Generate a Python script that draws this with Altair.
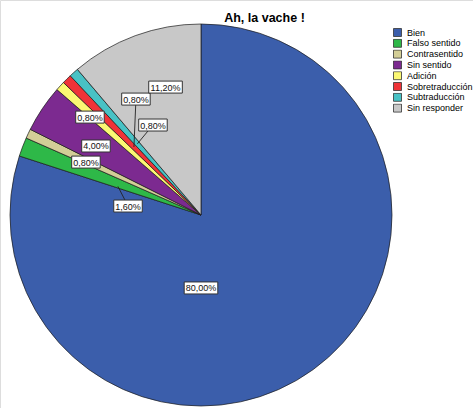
import altair as alt
import pandas as pd

# ---- data ----
categories = ["Bien", "Falso sentido", "Contrasentido", "Sin sentido", "Adición",
              "Sobretraducción", "Subtraducción", "Sin responder"]
percents = [80.0, 1.6, 0.8, 4.0, 0.8, 0.8, 0.8, 11.2]
value_labels = ["80,00%", "1,60%", "0,80%", "4,00%", "0,80%", "0,80%", "0,80%", "11,20%"]
title_text = "Ah, la vache !"

# ---- styles / layout ----
colors = ["#3B5EAB", "#2EB848", "#D3CE97", "#7C2A90", "#FBF873", "#EF3338", "#48C2C5", "#C8C8C8"]
R = 191  # pie radius in px
# label placement: angle (deg, clockwise from 12 o'clock) and radius (fraction of R)
label_angle = [180, 277, 294.7, 303.3, 311.4, 330.7, 331.9, 344.5]
label_radius = [0.382, 0.385, 0.663, 0.658, 0.775, 0.696, 0.534, 0.695]
# leader line targets (None = no leader line)
leader_angle = [None, 289.0, None, None, None, 315.4, 318.2, None]
leader_radius = [None, 0.46, None, None, None, 0.50, 0.50, None]

df = pd.DataFrame({
    "cat": categories,
    "pct": percents,
    "idx": list(range(len(categories))),
})
lab = pd.DataFrame({
    "label": value_labels,
    "a": label_angle,
    "r": label_radius,
})
lead = pd.DataFrame([
    {"a": label_angle[i], "r": label_radius[i], "ta": leader_angle[i], "tr": leader_radius[i]}
    for i in range(len(categories)) if leader_angle[i] is not None
])

xscale = alt.Scale(domain=[-1, 1], range=[201 - R, 201 + R])
yscale = alt.Scale(domain=[-1, 1], range=[215 + R, 215 - R])

pie = alt.Chart(df).mark_arc(outerRadius=R, stroke="#1a1a1a", strokeWidth=0.7).encode(
    theta=alt.Theta("pct:Q", stack=True),
    order=alt.Order("idx:Q", sort="ascending"),
    color=alt.Color("cat:N", scale=alt.Scale(domain=categories, range=colors),
                    sort=categories,
                    legend=alt.Legend(title=None, orient="none", legendX=393, legendY=28,
                                      symbolType="square", symbolSize=64,
                                      symbolStrokeColor="#333333", symbolStrokeWidth=0.8,
                                      symbolOpacity=1,
                                      labelFontSize=9, labelFont="Liberation Sans",
                                      labelColor="#000000", rowPadding=0.8, clipHeight=9,
                                      labelOffset=5, padding=0)),
    x=alt.XDatum(0, type="quantitative", scale=xscale, axis=None),
    y=alt.YDatum(0, type="quantitative", scale=yscale, axis=None),
)

leaders = alt.Chart(lead).transform_calculate(
    x1="datum.r*sin(datum.a*PI/180)",
    y1="datum.r*cos(datum.a*PI/180)",
    x2="datum.tr*sin(datum.ta*PI/180)",
    y2="datum.tr*cos(datum.ta*PI/180)",
).mark_rule(color="#222222", strokeWidth=0.9).encode(
    x=alt.X("x1:Q", scale=xscale, axis=None),
    y=alt.Y("y1:Q", scale=yscale, axis=None),
    x2="x2:Q",
    y2="y2:Q",
)

boxes = alt.Chart(lab).transform_calculate(
    cx="datum.r*sin(datum.a*PI/180)",
    cy="datum.r*cos(datum.a*PI/180)",
    hw="(length(datum.label)*5.1+3)/2/" + str(R),
    hh="6/" + str(R),
).transform_calculate(
    bx1="datum.cx-datum.hw", bx2="datum.cx+datum.hw",
    by1="datum.cy-datum.hh", by2="datum.cy+datum.hh",
).mark_rect(fill="white", stroke="#333333", strokeWidth=1).encode(
    x=alt.X("bx1:Q", scale=xscale, axis=None),
    x2="bx2:Q",
    y=alt.Y("by1:Q", scale=yscale, axis=None),
    y2="by2:Q",
)

texts = alt.Chart(lab).transform_calculate(
    cx="datum.r*sin(datum.a*PI/180)",
    cy="datum.r*cos(datum.a*PI/180)",
).mark_text(fontSize=9, font="Liberation Sans", color="#111111",
            align="center", baseline="middle", dy=0.5).encode(
    x=alt.X("cx:Q", scale=xscale, axis=None),
    y=alt.Y("cy:Q", scale=yscale, axis=None),
    text="label:N",
)

chart = alt.layer(pie, leaders, boxes, texts).properties(
    width=473, height=408,
    autosize=alt.AutoSizeParams(type="none"),
    padding=0,
    title=alt.TitleParams(title_text, font="Liberation Sans", fontSize=12.5,
                          fontWeight="bold", color="#000000", anchor="middle",
                          dx=28, dy=15, offset=-19, baseline="alphabetic"),
).configure_view(stroke=None).configure(background="white")

chart.save("out.html", embed_options={"renderer": "svg", "actions": False})
